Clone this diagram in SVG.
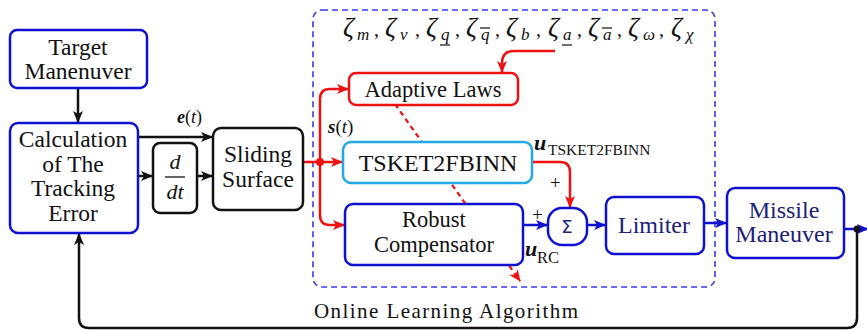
<svg xmlns="http://www.w3.org/2000/svg" width="867" height="331" viewBox="0 0 867 331" font-family="Liberation Serif" font-size="23.5" fill="#111">
<style>
.nb{fill:#fff;stroke:#1010d0;stroke-width:2.5}
.nk{fill:#fff;stroke:#111;stroke-width:2.5}
.nr{fill:#fff;stroke:#ee1111;stroke-width:2.5}
.nc{fill:#fff;stroke:#22aae6;stroke-width:2.5}
.k{fill:none;stroke:#111;stroke-width:2.5}
.r{fill:none;stroke:#ee1111;stroke-width:2.5}
.b{fill:none;stroke:#1010d0;stroke-width:2.5}
</style>
<defs>
<marker id="ak" markerWidth="12" markerHeight="10" refX="11" refY="5" orient="auto" markerUnits="userSpaceOnUse"><path d="M0,0 L12,5 L0,10 L3,5 Z" fill="#111"/></marker>
<marker id="ar" markerWidth="12" markerHeight="10" refX="11" refY="5" orient="auto" markerUnits="userSpaceOnUse"><path d="M0,0 L12,5 L0,10 L3,5 Z" fill="#ee1111"/></marker>
<marker id="ab" markerWidth="12" markerHeight="10" refX="11" refY="5" orient="auto" markerUnits="userSpaceOnUse"><path d="M0,0 L12,5 L0,10 L3,5 Z" fill="#1010d0"/></marker>
</defs>

<rect id="online-learning-region" x="313" y="10" width="402" height="277" rx="9" fill="none" stroke="#3b3bee" stroke-width="1.6" stroke-dasharray="6,4"/>

<g id="connectors">
<line x1="78" y1="88" x2="78" y2="122" class="k" marker-end="url(#ak)"/>
<line x1="138" y1="137" x2="212" y2="137" class="k" marker-end="url(#ak)"/>
<line x1="138" y1="176" x2="152" y2="176" class="k" marker-end="url(#ak)"/>
<line x1="197" y1="176" x2="212" y2="176" class="k" marker-end="url(#ak)"/>
<path d="M303,162 L342,162" class="r" marker-end="url(#ar)"/>
<path d="M320,162 L320,99 Q320,89 330,89 L348,89" class="r" marker-end="url(#ar)"/>
<path d="M320,162 L320,215 Q320,225 330,225 L344,225" class="r" marker-end="url(#ar)"/>
<circle cx="320" cy="162" r="4" fill="#ee1111"/>
<path d="M555,51 L514,51 Q502,51 502,63 L502,72" class="r" marker-end="url(#ar)"/>
<line x1="395" y1="104" x2="520" y2="281" stroke="#ee1111" stroke-width="2.2" stroke-dasharray="5,4" marker-end="url(#ar)"/>
<path d="M532,162 L560,162 Q570,162 570,172 L570,207" class="r" marker-end="url(#ar)"/>
<line x1="523" y1="225" x2="547" y2="225" class="b" marker-end="url(#ab)"/>
<line x1="587" y1="225" x2="605" y2="225" class="b" marker-end="url(#ab)"/>
<line x1="704" y1="223" x2="726" y2="223" class="b" marker-end="url(#ab)"/>
<line x1="844" y1="229" x2="868" y2="229" class="b" marker-end="url(#ab)"/>
<path d="M857,229 L857,318 Q857,328 847,328 L89,328 Q79,328 79,318 L79,234" class="k" marker-end="url(#ak)"/>
<circle cx="857" cy="229" r="3.5" fill="#111"/>
</g>

<g id="target-maneuver" text-anchor="middle">
<rect x="10" y="30" width="137" height="58" rx="7" class="nb"/>
<text x="78" y="55" font-family="Liberation Serif">Target</text>
<text x="78" y="79" font-family="Liberation Serif">Manenuver</text>
</g>
<g id="tracking-error" text-anchor="middle">
<rect x="10" y="123" width="128" height="110" rx="8" class="nb"/>
<text x="73" y="147" font-family="Liberation Serif">Calculation</text>
<text x="73" y="172" font-family="Liberation Serif">of The</text>
<text x="73" y="196" font-family="Liberation Serif">Tracking</text>
<text x="73" y="221" font-family="Liberation Serif">Error</text>
</g>
<g id="derivative" text-anchor="middle">
<rect x="153" y="143" width="44" height="70" rx="7" class="nk"/>
<text x="175" y="169" font-family="Liberation Serif" font-style="italic" font-size="22">d</text>
<line x1="165" y1="177" x2="185" y2="177" stroke="#111" stroke-width="1.3"/>
<text x="175" y="199" font-family="Liberation Serif" font-style="italic" font-size="22">dt</text>
</g>
<g id="sliding-surface" text-anchor="middle">
<rect x="213" y="128" width="90" height="82" rx="8" class="nk"/>
<text x="258" y="162" font-family="Liberation Serif">Sliding</text>
<text x="258" y="187" font-family="Liberation Serif">Surface</text>
</g>
<g id="adaptive-laws" text-anchor="middle">
<rect x="349" y="73" width="169" height="32" rx="7" class="nr"/>
<text x="433" y="97" font-family="Liberation Serif" font-size="22.5">Adaptive Laws</text>
</g>
<g id="tsket2fbinn" text-anchor="middle">
<rect x="343" y="142" width="189" height="41" rx="8" class="nc"/>
<text x="438" y="171" font-family="Liberation Serif" font-size="24">TSKET2FBINN</text>
</g>
<g id="robust-compensator" text-anchor="middle">
<rect x="345" y="204" width="178" height="61" rx="8" class="nb"/>
<text x="434" y="226.5" font-family="Liberation Serif" font-size="22.5">Robust</text>
<text x="434" y="252" font-family="Liberation Serif" font-size="22.5">Compensator</text>
</g>
<g id="sum" text-anchor="middle">
<rect x="548" y="208" width="39" height="37" rx="14" class="nb"/>
<text x="567" y="233" fill="#20207a" font-size="18" font-family="DejaVu Sans">Σ</text>
</g>
<g id="limiter" text-anchor="middle">
<rect x="606" y="197" width="98" height="57" rx="8" class="nb"/>
<text x="654" y="233" font-family="Liberation Serif" fill="#20207a" font-size="24">Limiter</text>
</g>
<g id="missile-maneuver" text-anchor="middle">
<rect x="727" y="188" width="117" height="70" rx="8" class="nb"/>
<text x="784" y="218" font-family="Liberation Serif" fill="#20207a" font-size="24">Missile</text>
<text x="784" y="242" font-family="Liberation Serif" fill="#20207a" font-size="24">Maneuver</text>
</g>

<g id="labels">
<text x="177" y="123" font-family="Liberation Serif" font-weight="bold" font-style="italic" font-size="18">e<tspan font-weight="normal" font-style="normal">(</tspan><tspan font-weight="normal">t</tspan><tspan font-weight="normal" font-style="normal">)</tspan></text>
<text x="328" y="133" font-family="Liberation Serif" font-weight="bold" font-style="italic" font-size="19">s<tspan font-weight="normal" font-style="normal">(</tspan><tspan font-weight="normal">t</tspan><tspan font-weight="normal" font-style="normal">)</tspan></text>
<text x="534" y="150" font-family="Liberation Serif" font-weight="bold" font-style="italic" font-size="22">u</text>
<text x="548" y="155" font-family="Liberation Serif" font-size="15.5">TSKET2FBINN</text>
<text x="550" y="189" font-family="Liberation Serif" font-size="19">+</text>
<text x="532" y="221" font-family="Liberation Serif" font-size="19">+</text>
<text x="525" y="256" font-family="Liberation Serif" font-weight="bold" font-style="italic" font-size="22">u</text>
<text x="537" y="263" font-family="Liberation Serif" font-size="16.5">RC</text>
<text x="314" y="318" font-family="Liberation Serif" font-size="21" textLength="264" lengthAdjust="spacing">Online Learning Algorithm</text>
</g>

<g id="zeta-parameters" font-family="Liberation Serif">
<text y="36" font-family="Liberation Serif" font-style="italic" font-size="27"><tspan x="343">ζ</tspan><tspan x="385">ζ</tspan><tspan x="426">ζ</tspan><tspan x="466">ζ</tspan><tspan x="506">ζ</tspan><tspan x="548">ζ</tspan><tspan x="588">ζ</tspan><tspan x="628">ζ</tspan><tspan x="671">ζ</tspan></text>
<text y="40" font-family="Liberation Serif" font-style="italic" font-size="17"><tspan x="357">m</tspan><tspan x="400">v</tspan><tspan x="441">q</tspan><tspan x="481">q</tspan><tspan x="521">b</tspan><tspan x="563">a</tspan><tspan x="603">a</tspan><tspan x="643">ω</tspan><tspan x="686">χ</tspan></text>
<text y="36" font-family="Liberation Serif" font-size="20"><tspan x="374">,</tspan><tspan x="415">,</tspan><tspan x="455">,</tspan><tspan x="495">,</tspan><tspan x="536">,</tspan><tspan x="577">,</tspan><tspan x="617">,</tspan><tspan x="659">,</tspan></text>
<g stroke="#111" stroke-width="1.2">
<line x1="440" y1="45" x2="450" y2="45"/>
<line x1="480" y1="28" x2="490" y2="28"/>
<line x1="562" y1="45" x2="572" y2="45"/>
<line x1="602" y1="28" x2="612" y2="28"/>
</g>
</g>
</svg>
